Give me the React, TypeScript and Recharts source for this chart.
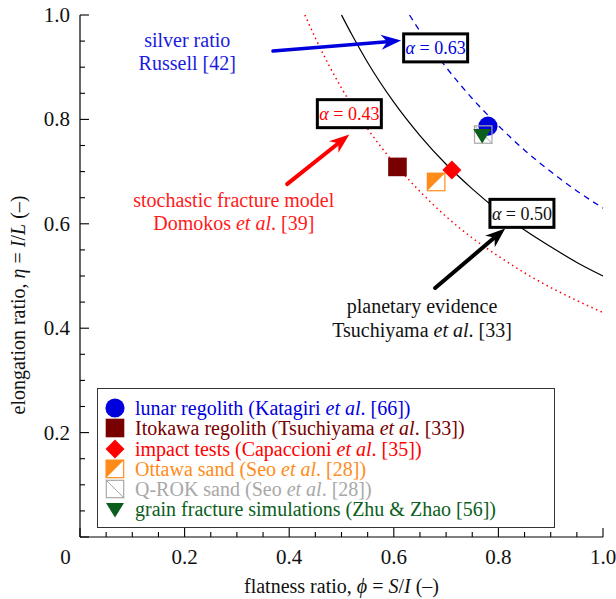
import React from "react";
import {
  ComposedChart,
  XAxis,
  YAxis,
  Line,
  Scatter,
  ReferenceDot,
  ReferenceLine,
  Legend,
} from "recharts";

const FONT = '"Liberation Serif", "DejaVu Serif", serif';

const BLUE = "#0000dd";
const DARK_RED = "#780000";
const RED = "#ff0000";
const ORANGE = "#ff8c1a";
const GRAY = "#a8a8a8";
const GREEN = "#0b5e1c";

// axis ticks (every 0.05, labelled every 0.2)
const axisTicks = [
  0, 0.05, 0.1, 0.15, 0.2, 0.25, 0.3, 0.35, 0.4, 0.45, 0.5, 0.55, 0.6, 0.65,
  0.7, 0.75, 0.8, 0.85, 0.9, 0.95, 1,
];
const majorTicks = [0, 0.2, 0.4, 0.6, 0.8, 1];

// curves of constant alpha
const phi043 = [0.43, 0.45, 0.5, 0.55, 0.6, 0.65, 0.7, 0.75, 0.8, 0.85, 0.9, 0.95, 1.0];
const eta043 = [1.0, 0.956, 0.86, 0.782, 0.717, 0.662, 0.614, 0.573, 0.538, 0.506, 0.478, 0.453, 0.43];
const phi050 = [0.5, 0.52, 0.55, 0.6, 0.65, 0.7, 0.75, 0.8, 0.85, 0.9, 0.95, 1.0];
const eta050 = [1.0, 0.962, 0.909, 0.833, 0.769, 0.714, 0.667, 0.625, 0.588, 0.556, 0.526, 0.5];
const phi063 = [0.63, 0.65, 0.7, 0.75, 0.8, 0.85, 0.9, 0.95, 1.0];
const eta063 = [1.0, 0.969, 0.9, 0.84, 0.788, 0.741, 0.7, 0.663, 0.63];

// measured points
const lunar = [{ phi: 0.78, eta: 0.787 }];
const itokawa = [{ phi: 0.607, eta: 0.709 }];
const impact = [{ phi: 0.711, eta: 0.703 }];
const ottawa = [{ phi: 0.681, eta: 0.68 }];
const qrok = [{ phi: 0.771, eta: 0.771 }];
const grain = [{ phi: 0.769, eta: 0.768 }];

const legendItems = [
  { kind: "circle", color: BLUE, text: ["lunar regolith (Katagiri ", "et al", ". [66])"] },
  { kind: "square", color: DARK_RED, text: ["Itokawa regolith (Tsuchiyama ", "et al", ". [33])"] },
  { kind: "diamond", color: RED, text: ["impact tests (Capaccioni ", "et al", ". [35])"] },
  { kind: "half", color: ORANGE, text: ["Ottawa sand (Seo ", "et al", ". [28])"] },
  { kind: "cross", color: GRAY, text: ["Q-ROK sand (Seo ", "et al", ". [28])"] },
  { kind: "tri", color: GREEN, text: ["grain fracture simulations (Zhu & Zhao [56])", "", ""] },
];

const toPts = (xs: number[], ys: number[]) => xs.map((x, i) => ({ phi: x, eta: ys[i] }));

const isMajor = (v: number) => majorTicks.some((m) => Math.abs(m - v) < 1e-6);
const fmt = (v: number) => (v === 0 ? "0" : v.toFixed(1));

function Marker({ kind, cx, cy }: { kind: string; cx: number; cy: number }) {
  const h = 9.3;
  switch (kind) {
    case "circle":
      return <circle cx={cx} cy={cy} r={9.6} fill={BLUE} />;
    case "square":
      return <rect x={cx - h} y={cy - h} width={2 * h} height={2 * h} fill={DARK_RED} />;
    case "diamond":
      return (
        <polygon
          points={`${cx},${cy - 9.5} ${cx + 9.5},${cy} ${cx},${cy + 9.5} ${cx - 9.5},${cy}`}
          fill={RED}
        />
      );
    case "half":
      return (
        <g>
          <rect x={cx - h + 0.6} y={cy - h + 0.6} width={2 * h - 1.2} height={2 * h - 1.2} fill="#fff" stroke={ORANGE} strokeWidth={1.2} />
          <polygon points={`${cx - h},${cy - h} ${cx + h},${cy - h} ${cx - h},${cy + h}`} fill={ORANGE} />
        </g>
      );
    case "cross":
      return (
        <g>
          <rect x={cx - h + 0.6} y={cy - h + 0.6} width={2 * h - 1.2} height={2 * h - 1.2} fill="none" stroke={GRAY} strokeWidth={1.2} />
          <line x1={cx - h} y1={cy - h} x2={cx + h} y2={cy + h} stroke={GRAY} strokeWidth={1} />
        </g>
      );
    default:
      return <polygon points={`${cx - 9},${cy - 7} ${cx + 9},${cy - 7} ${cx},${cy + 7.5}`} fill={GREEN} />;
  }
}

const markerShape = (kind: string) => (p: any) => <Marker kind={kind} cx={p.cx} cy={p.cy} />;

function BottomTick({ x, y, payload }: any) {
  const v = payload.value;
  const len = isMajor(v) ? 9 : 5;
  return (
    <g>
      <line x1={x} y1={y} x2={x} y2={y - len} stroke="#000" strokeWidth={1.1} />
      {isMajor(v) && (
        <text x={v === 0 ? x - 14.5 : x} y={y + 26.5} textAnchor="middle" fontFamily={FONT} fontSize={21} fill="#111">
          {fmt(v)}
        </text>
      )}
    </g>
  );
}

function TopTick({ x, y, payload }: any) {
  const len = isMajor(payload.value) ? 9 : 5;
  return <line x1={x} y1={y} x2={x} y2={y + len} stroke="#000" strokeWidth={1.1} />;
}

function LeftTick({ x, y, payload }: any) {
  const v = payload.value;
  const len = isMajor(v) ? 9 : 5;
  return (
    <g>
      <line x1={x} y1={y} x2={x + len} y2={y} stroke="#000" strokeWidth={1.1} />
      {isMajor(v) && v !== 0 && (
        <text x={x - 10} y={y + 7} textAnchor="end" fontFamily={FONT} fontSize={21} fill="#111">
          {fmt(v)}
        </text>
      )}
    </g>
  );
}

function RightTick({ x, y, payload }: any) {
  const len = isMajor(payload.value) ? 9 : 5;
  return <line x1={x} y1={y} x2={x - len} y2={y} stroke="#000" strokeWidth={1.1} />;
}

const xTitle = (props: any) => {
  const vb = props.viewBox;
  return (
    <text x={vb.x + vb.width / 2} y={593} textAnchor="middle" fontFamily={FONT} fontSize={20} fill="#111">
      flatness ratio, <tspan fontStyle="italic">ϕ</tspan> = <tspan fontStyle="italic">S</tspan>/
      <tspan fontStyle="italic">I</tspan> (–)
    </text>
  );
};

const yTitle = () => (
  <text transform="translate(25, 305) rotate(-90)" textAnchor="middle" fontFamily={FONT} fontSize={20} fill="#111">
    elongation ratio, <tspan fontStyle="italic">η</tspan> = <tspan fontStyle="italic">I</tspan>/
    <tspan fontStyle="italic">L</tspan> (–)
  </text>
);

const arrowShape = (color: string, sw: number) => (p: any) => {
  const { x1, y1, x2, y2 } = p;
  const dx = x2 - x1;
  const dy = y2 - y1;
  const d = Math.hypot(dx, dy) || 1;
  const ux = dx / d;
  const uy = dy / d;
  const nx = -uy;
  const ny = ux;
  const L = 20;
  const hw = 7.5;
  const notch = 6;
  const bx = x2 - L * ux;
  const by = y2 - L * uy;
  const mx = x2 - (L - notch) * ux;
  const my = y2 - (L - notch) * uy;
  return (
    <g>
      <line x1={x1} y1={y1} x2={mx} y2={my} stroke={color} strokeWidth={sw} strokeLinecap="round" />
      <polygon
        points={`${x2},${y2} ${bx + hw * nx},${by + hw * ny} ${mx},${my} ${bx - hw * nx},${by - hw * ny}`}
        fill={color}
      />
    </g>
  );
};

const alphaBox = (label: string, color: string) => (p: any) => (
  <g>
    <rect x={p.cx - 32} y={p.cy - 14} width={64} height={28} fill="#fff" stroke="#000" strokeWidth={3} />
    <text x={p.cx} y={p.cy + 6.5} textAnchor="middle" fontFamily={FONT} fontSize={18} fill={color}>
      <tspan fontStyle="italic">α</tspan> = {label}
    </text>
  </g>
);

const twoLines = (l1: React.ReactNode, l2: React.ReactNode, color: string) => (p: any) => (
  <text x={p.cx} y={p.cy} textAnchor="middle" fontFamily={FONT} fontSize={20} fill={color}>
    <tspan x={p.cx} dy={0}>{l1}</tspan>
    <tspan x={p.cx} dy={23.5}>{l2}</tspan>
  </text>
);

const renderLegend = () => (
  <div
    style={{
      width: 458,
      height: 140,
      boxSizing: "border-box",
      border: "1px solid #333",
      background: "#fff",
      paddingTop: 9,
      fontFamily: FONT,
      fontSize: 20,
    }}
  >
    {legendItems.map((it) => (
      <div key={it.kind} style={{ display: "flex", alignItems: "center", height: 20.3, whiteSpace: "nowrap" }}>
        <svg width={22} height={22} style={{ marginLeft: 6, overflow: "visible" }}>
          <Marker kind={it.kind} cx={11} cy={11} />
        </svg>
        <span style={{ marginLeft: 9, color: it.color, lineHeight: "20.3px" }}>
          {it.text[0]}
          {it.text[1] && <i>{it.text[1]}</i>}
          {it.text[2]}
        </span>
      </div>
    ))}
  </div>
);

export default function App() {
  return (
    <div style={{ position: "absolute", left: 0, top: 0, background: "#fff" }}>
      <ComposedChart width={616} height={599} margin={{ top: 15, right: 13, bottom: 0, left: 0 }}>
        <XAxis
          xAxisId="b"
          dataKey="phi"
          type="number"
          domain={[0, 1]}
          ticks={axisTicks}
          interval={0}
          height={62}
          tickSize={0}
          tickMargin={0}
          tickLine={false}
          axisLine={{ stroke: "#000", strokeWidth: 1.2 }}
          tick={<BottomTick />}
          label={xTitle}
        />
        <XAxis
          xAxisId="t"
          orientation="top"
          type="number"
          domain={[0, 1]}
          ticks={axisTicks}
          interval={0}
          height={0}
          tickSize={0}
          tickMargin={0}
          tickLine={false}
          axisLine={{ stroke: "#000", strokeWidth: 1.2 }}
          tick={<TopTick />}
        />
        <YAxis
          yAxisId="l"
          dataKey="eta"
          type="number"
          domain={[0, 1]}
          ticks={axisTicks}
          interval={0}
          width={80}
          tickSize={0}
          tickMargin={0}
          tickLine={false}
          axisLine={{ stroke: "#000", strokeWidth: 1.2 }}
          tick={<LeftTick />}
          label={yTitle}
        />
        <YAxis
          yAxisId="r"
          orientation="right"
          type="number"
          domain={[0, 1]}
          ticks={axisTicks}
          interval={0}
          width={0}
          tickSize={0}
          tickMargin={0}
          tickLine={false}
          axisLine={{ stroke: "#000", strokeWidth: 1.2 }}
          tick={<RightTick />}
        />

        <Line xAxisId="b" yAxisId="l" data={toPts(phi043, eta043)} dataKey="eta" type="monotone" stroke={RED} strokeWidth={1.5} strokeDasharray="1.5 3.5" dot={false} isAnimationActive={false} />
        <Line xAxisId="b" yAxisId="l" data={toPts(phi050, eta050)} dataKey="eta" type="monotone" stroke="#000" strokeWidth={1.2} dot={false} isAnimationActive={false} />
        <Line xAxisId="b" yAxisId="l" data={toPts(phi063, eta063)} dataKey="eta" type="monotone" stroke={BLUE} strokeWidth={1.3} strokeDasharray="6 5" dot={false} isAnimationActive={false} />

        <ReferenceLine xAxisId="b" yAxisId="l" segment={[{ x: 0.369, y: 0.931 }, { x: 0.614, y: 0.951 }]} shape={arrowShape(BLUE, 3.5)} />
        <ReferenceLine xAxisId="b" yAxisId="l" segment={[{ x: 0.396, y: 0.676 }, { x: 0.515, y: 0.771 }]} shape={arrowShape(RED, 4)} />
        <ReferenceLine xAxisId="b" yAxisId="l" segment={[{ x: 0.679, y: 0.477 }, { x: 0.813, y: 0.591 }]} shape={arrowShape("#000", 4)} />

        <ReferenceDot xAxisId="b" yAxisId="l" x={0.68} y={0.937} shape={alphaBox("0.63", BLUE)} />
        <ReferenceDot xAxisId="b" yAxisId="l" x={0.515} y={0.811} shape={alphaBox("0.43", RED)} />
        <ReferenceDot xAxisId="b" yAxisId="l" x={0.845} y={0.62} shape={alphaBox("0.50", "#111")} />

        <ReferenceDot xAxisId="b" yAxisId="l" x={0.205} y={0.939} shape={twoLines("silver ratio", "Russell [42]", "#1a1ae0")} />
        <ReferenceDot
          xAxisId="b"
          yAxisId="l"
          x={0.294}
          y={0.633}
          shape={twoLines("stochastic fracture model", <>Domokos <tspan fontStyle="italic">et al</tspan>. [39]</>, "#ff1a1a")}
        />
        <ReferenceDot
          xAxisId="b"
          yAxisId="l"
          x={0.654}
          y={0.429}
          shape={twoLines("planetary evidence", <>Tsuchiyama <tspan fontStyle="italic">et al</tspan>. [33]</>, "#111")}
        />

        <Scatter xAxisId="b" yAxisId="l" data={lunar} shape={markerShape("circle")} isAnimationActive={false} />
        <Scatter xAxisId="b" yAxisId="l" data={itokawa} shape={markerShape("square")} isAnimationActive={false} />
        <Scatter xAxisId="b" yAxisId="l" data={impact} shape={markerShape("diamond")} isAnimationActive={false} />
        <Scatter xAxisId="b" yAxisId="l" data={ottawa} shape={markerShape("half")} isAnimationActive={false} />
        <Scatter xAxisId="b" yAxisId="l" data={qrok} shape={markerShape("cross")} isAnimationActive={false} />
        <Scatter xAxisId="b" yAxisId="l" data={grain} shape={markerShape("tri")} isAnimationActive={false} />

        <Legend
          layout="vertical"
          align="center"
          verticalAlign="middle"
          content={renderLegend}
          wrapperStyle={{ left: 97, top: 388, width: 458, height: 140 }}
        />
      </ComposedChart>
    </div>
  );
}
